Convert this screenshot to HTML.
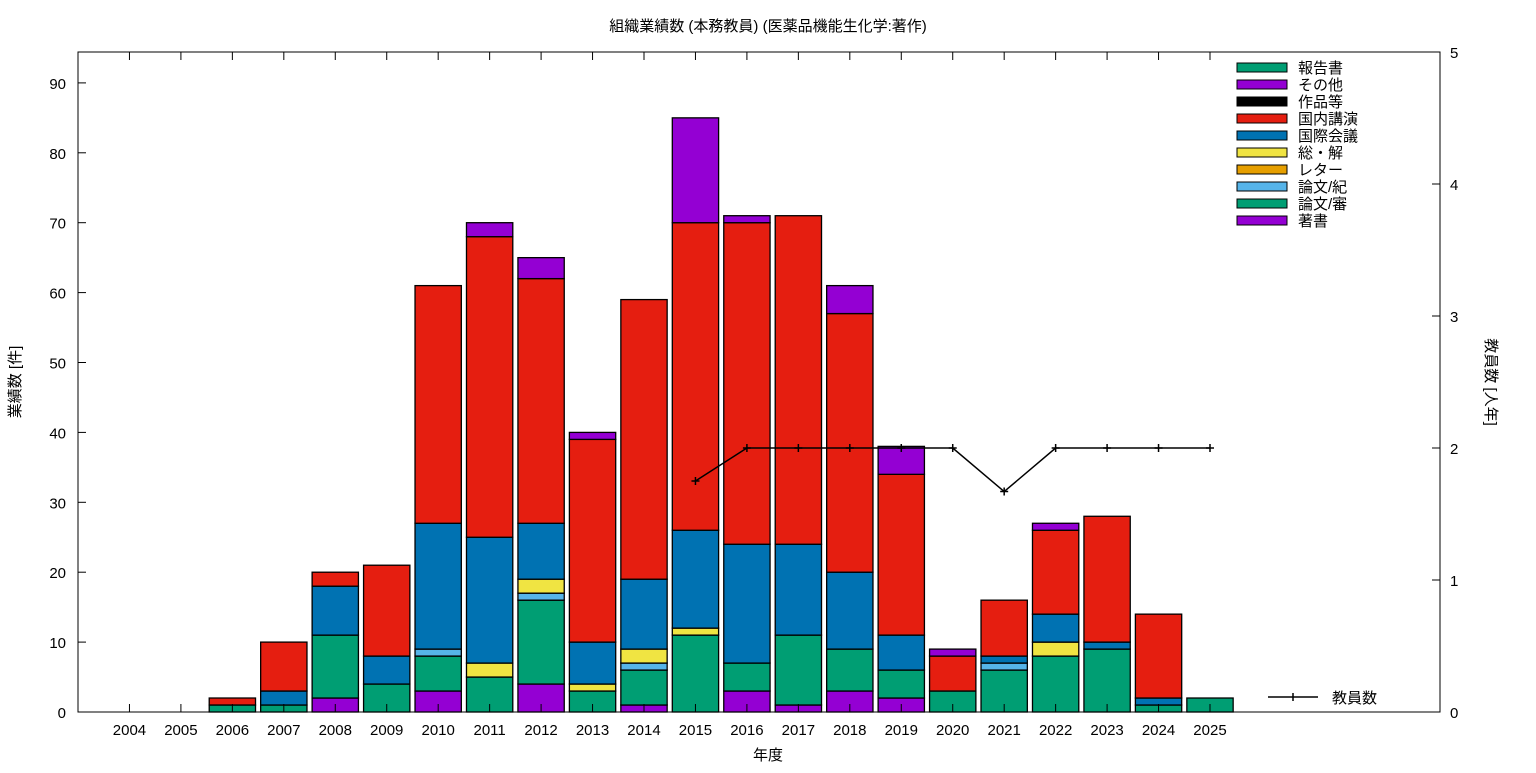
<!DOCTYPE html>
<html><head><meta charset="utf-8"><style>
body{margin:0;background:#fff}
svg text{font-family:"Liberation Sans","Noto Sans CJK JP",sans-serif;font-size:15px;fill:#000}
</style></head><body>
<svg id="c" width="1536" height="768" xmlns="http://www.w3.org/2000/svg">
<text x="768" y="31" text-anchor="middle">組織業績数 (本務教員) (医薬品機能生化学:著作)</text>
<text x="768" y="760" text-anchor="middle">年度</text>
<text transform="translate(20,382) rotate(-90)" text-anchor="middle">業績数 [件]</text>
<text transform="translate(1486,382) rotate(90)" text-anchor="middle">教員数 [人年]</text>
<g id="bars"></g><g id="axes"></g><g id="legend"></g>
</svg>
<script>
const years=[2004,2005,2006,2007,2008,2009,2010,2011,2012,2013,2014,2015,2016,2017,2018,2019,2020,2021,2022,2023,2024,2025];
const seriesNames=["著書","論文/審","論文/紀","レター","総・解","国際会議","国内講演","作品等","その他","報告書"];
const seriesColors=["#9400d3","#009e73","#56b4e9","#e69f00","#f0e442","#0072b2","#e51e10","#000000","#9400d3","#009e73"];
const chosho=[0,0,0,0,2,0,3,0,4,0,1,0,3,1,3,2,0,0,0,0,0,0];
const shin=[0,0,1,1,9,4,5,5,12,3,5,11,4,10,6,4,3,6,8,9,1,2];
const kiyo=[0,0,0,0,0,0,1,0,1,0,1,0,0,0,0,0,0,1,0,0,0,0];
const letter=[0,0,0,0,0,0,0,0,0,0,0,0,0,0,0,0,0,0,0,0,0,0];
const sokai=[0,0,0,0,0,0,0,2,2,1,2,1,0,0,0,0,0,0,2,0,0,0];
const kokusai=[0,0,0,2,7,4,18,18,8,6,10,14,17,13,11,5,0,1,4,1,1,0];
const kokunai=[0,0,1,7,2,13,34,43,35,29,40,44,46,47,37,23,5,8,12,18,12,0];
const sakuhin=[0,0,0,0,0,0,0,0,0,0,0,0,0,0,0,0,0,0,0,0,0,0];
const sonota=[0,0,0,0,0,0,0,2,3,1,0,15,1,0,4,4,1,0,1,0,0,0];
const hokoku=[0,0,0,0,0,0,0,0,0,0,0,0,0,0,0,0,0,0,0,0,0,0];
const staffYears=[2015,2016,2017,2018,2019,2020,2021,2022,2023,2024,2025];
const staff=[1.75,2,2,2,2,2,1.67,2,2,2,2];
const yTicks=[0,10,20,30,40,50,60,70,80,90];
const y2Ticks=[0,1,2,3,4,5];
const L=78,R=1440,T=52,B=712;
const xs=v=>L+(v-2003)*(R-L)/26.47;
const ys=v=>B-v*(B-T)/94.42;
const y2s=v=>B-v*(B-T)/5;
const NS="http://www.w3.org/2000/svg";
function mk(tag,attrs,parent){const e=document.createElementNS(NS,tag);for(const k in attrs)e.setAttribute(k,attrs[k]);parent.appendChild(e);return e;}
const all=[chosho,shin,kiyo,letter,sokai,kokusai,kokunai,sakuhin,sonota,hokoku];
const bars=document.getElementById('bars');
const bw=(R-L)/26.47*0.9;
years.forEach((y,i)=>{let acc=0;all.forEach((s,j)=>{const v=s[i];if(v>0){
const r=mk('rect',{x:xs(y)-bw/2,y:ys(acc+v),width:bw,height:ys(acc)-ys(acc+v),fill:seriesColors[j],stroke:'#000','stroke-width':1.3},bars);


acc+=v;}});});
const ax=document.getElementById('axes');
const fr=mk('rect',{x:L,y:T,width:R-L,height:B-T,fill:'none',stroke:'#000','stroke-width':1},ax);

yTicks.forEach(t=>{mk('line',{x1:L,x2:L+8,y1:ys(t),y2:ys(t),stroke:'#000'},ax);
const tx=mk('text',{x:L-12,y:ys(t)+6,'text-anchor':'end','font-size':'16'},ax);tx.textContent=t;
});
y2Ticks.forEach(t=>{mk('line',{x1:R-8,x2:R,y1:y2s(t),y2:y2s(t),stroke:'#000'},ax);
const tx=mk('text',{x:R+10,y:y2s(t)+6,'font-size':'16'},ax);tx.textContent=t;
});
years.forEach(y=>{mk('line',{x1:xs(y),x2:xs(y),y1:B,y2:B-8,stroke:'#000'},ax);mk('line',{x1:xs(y),x2:xs(y),y1:T,y2:T+8,stroke:'#000'},ax);
const tx=mk('text',{x:xs(y),y:735,'text-anchor':'middle','font-size':'16'},ax);tx.textContent=y;
});
const pl=mk('polyline',{points:staffYears.map((y,i)=>xs(y)+','+y2s(staff[i])).join(' '),fill:'none',stroke:'#000','stroke-width':1.5},ax);

staffYears.forEach((y,i)=>{const p=mk('path',{d:`M${xs(y)-4},${y2s(staff[i])}h8M${xs(y)},${y2s(staff[i])-4}v8`,stroke:'#000','stroke-width':1.5},ax);
});
const lg=document.getElementById('legend');
for(let k=0;k<10;k++){const j=9-k;const yy=67+k*17;
const r=mk('rect',{x:1237,y:yy-4,width:50,height:9,fill:seriesColors[j],stroke:'#000','stroke-width':1},lg);

const t=mk('text',{x:1298,y:yy+6},lg);t.textContent=seriesNames[j];
}
mk('path',{d:'M1268,697h50M1293,693v8',stroke:'#000','stroke-width':1.5},lg);
const t2=mk('text',{x:1332,y:703},lg);t2.textContent='教員数';

</script>
</body></html>
